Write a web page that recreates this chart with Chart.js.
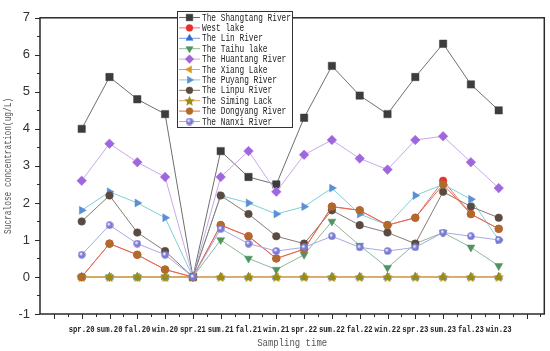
<!DOCTYPE html>
<html>
<head>
<meta charset="utf-8">
<script src="https://cdn.jsdelivr.net/npm/chart.js@4/dist/chart.umd.min.js"></script>
<style>
html, body { margin: 0; padding: 0; background: #fff; }
</style>
</head>
<body>
<canvas id="chart" width="550" height="351"></canvas>
<script>
// sampling seasons and measured sucralose values (ug/L)
const seasons = ['spr.20', 'sum.20', 'fal.20', 'win.20', 'spr.21', 'sum.21', 'fal.21', 'win.21',
                 'spr.22', 'sum.22', 'fal.22', 'win.22', 'spr.23', 'sum.23', 'fal.23', 'win.23'];
const yTicks = [-1, 0, 1, 2, 3, 4, 5, 6, 7];

const shangtang = [4.0, 5.4, 4.8, 4.4, 0, 3.4, 2.7, 2.5, 4.3, 5.7, 4.9, 4.4, 5.4, 6.3, 5.2, 4.5];
const westLake  = [0, 0.9, 0.6, 0.2, 0, 1.4, 1.1, 0.5, 0.75, 1.9, 1.8, 1.4, 1.6, 2.6, 1.7, 1.3];
const linRiver  = [0, 0, 0, 0, 0, 0, 0, 0, 0, 0, 0, 0, 0, 0, 0, 0];
const taihu     = [0, 0, 0, 0, 0, 1.0, 0.5, 0.2, 0.6, 1.5, 0.85, 0.25, 0.9, 1.2, 0.8, 0.3];
const huantang  = [2.6, 3.6, 3.1, 2.7, 0, 2.7, 3.4, 2.3, 3.3, 3.7, 3.2, 2.9, 3.7, 3.8, 3.1, 2.4];
const xiangLake = [0, 0, 0, 0, 0, 0, 0, 0, 0, 0, 0, 0, 0, 0, 0, 0];
const puyang    = [1.8, 2.3, 2.0, 1.6, 0, 2.2, 2.0, 1.7, 1.9, 2.4, 1.7, 1.4, 2.2, 2.5, 2.1, 1.0];
const linpu     = [1.5, 2.2, 1.2, 0.7, 0, 2.2, 1.7, 1.1, 0.9, 1.8, 1.4, 1.2, 0.9, 2.3, 1.9, 1.6];
const siming    = [0, 0, 0, 0, 0, 0, 0, 0, 0, 0, 0, 0, 0, 0, 0, 0];
const dongyang  = [0, 0.9, 0.6, 0.2, 0, 1.4, 1.1, 0.5, 0.75, 1.9, 1.8, 1.4, 1.6, 2.5, 1.7, 1.3];
const nanxi     = [0.6, 1.4, 0.9, 0.6, 0, 1.3, 0.9, 0.7, 0.8, 1.1, 0.8, 0.7, 0.8, 1.2, 1.1, 1.0];

// filled five point star marker
function makeStar(color, size) {
    const c = document.createElement('canvas');
    c.width = size; c.height = size;
    const g = c.getContext('2d');
    const r = size / 2, ri = r * 0.45;
    g.beginPath();
    for (let i = 0; i < 10; i++) {
        const rad = i % 2 ? ri : r;
        const a = -Math.PI / 2 + i * Math.PI / 5;
        g.lineTo(r + rad * Math.cos(a), r + rad * Math.sin(a) + 0.5);
    }
    g.closePath();
    g.fillStyle = color;
    g.fill();
    return c;
}

// shaded ball marker
function makeBall(color, size) {
    const c = document.createElement('canvas');
    c.width = size; c.height = size;
    const g = c.getContext('2d');
    const r = size / 2;
    const grad = g.createRadialGradient(r * 0.75, r * 0.7, 0.5, r, r, r);
    grad.addColorStop(0, '#f4f4ff');
    grad.addColorStop(0.45, color);
    grad.addColorStop(1, color);
    g.beginPath();
    g.arc(r, r, r - 0.3, 0, Math.PI * 2);
    g.fillStyle = grad;
    g.fill();
    return c;
}

const series = [
    { name: 'The Shangtang River', data: shangtang, color: '#3d3d3d', line: '#6e6e6e', style: 'rect', radius: 5.2 },
    { name: 'West lake', data: westLake, color: '#e8302a', line: '#f07070', style: 'circle', radius: 3.8 },
    { name: 'The Lin River', data: linRiver, color: '#2b6fd6', line: '#6f9be0', style: 'triangle', radius: 4.6 },
    { name: 'The Taihu lake', data: taihu, color: '#4f9460', line: '#8fb89a', style: 'triangle', radius: 4.6, rotation: 180 },
    { name: 'The Huantang River', data: huantang, color: '#a066dd', line: '#c8a8e8', style: 'rectRot', radius: 4.8 },
    { name: 'The Xiang Lake', data: xiangLake, color: '#d49a1a', line: '#e8a440', style: 'triangle', radius: 4.6, rotation: -90 },
    { name: 'The Puyang River', data: puyang, color: '#5a8fd6', line: '#7ccfd8', style: 'triangle', radius: 4.6, rotation: 90 },
    { name: 'The Linpu River', data: linpu, color: '#5a4b42', line: '#8a7a70', style: 'circle', radius: 3.8 },
    { name: 'The Siming Lack', data: siming, color: '#9a8c12', line: '#e0a050', style: makeStar('#9a8c12', 11), radius: 4.5 },
    { name: 'The Dongyang River', data: dongyang, color: '#b06a2c', line: '#e06a50', style: 'circle', radius: 3.8 },
    { name: 'The Nanxi River', data: nanxi, color: '#7a78d4', line: '#a8a8e2', style: makeBall('#7a78d4', 8), radius: 4 }
];

const datasets = series.map((s, i) => ({
    label: s.name,
    data: s.data.map((v, k) => ({ x: k + 1, y: v })),
    borderColor: s.line,
    borderWidth: 1,
    backgroundColor: s.color,
    pointBackgroundColor: s.color,
    pointBorderColor: s.color,
    pointBorderWidth: 0.5,
    pointStyle: s.style,
    pointRadius: s.radius,
    pointRotation: s.rotation || 0,
    tension: 0,
    order: series.length - i
}));

// box around the plot, outward major / minor ticks and season labels
const framePlugin = {
    id: 'frame',
    afterDatasetsDraw(chart) {
        const { ctx, chartArea: a, scales: { x, y } } = chart;
        ctx.save();
        ctx.strokeStyle = '#2a2a2a';
        ctx.lineWidth = 1;
        ctx.beginPath();
        for (let v = 0; v <= 17.5; v += 0.5) {
            const px = Math.round(x.getPixelForValue(v)) + 0.5;
            const len = v % 1 ? 3 : 5;
            ctx.moveTo(px, a.bottom);
            ctx.lineTo(px, a.bottom + len);
        }
        for (let v = -1; v <= 7; v += 0.5) {
            const py = Math.round(y.getPixelForValue(v)) + 0.5;
            const len = v % 1 ? 3 : 5;
            ctx.moveTo(a.left, py);
            ctx.lineTo(a.left - len, py);
        }
        ctx.stroke();
        ctx.lineWidth = 1.5;
        ctx.strokeRect(a.left, a.top, a.right - a.left, a.bottom - a.top);

        ctx.fillStyle = '#222';
        ctx.font = 'bold 9px "Liberation Mono", monospace';
        ctx.textAlign = 'center';
        ctx.textBaseline = 'middle';
        x.ticks.forEach(t => {
            ctx.fillText(seasons[t.value - 1], x.getPixelForValue(t.value), a.bottom + 16, 26);
        });
        ctx.restore();
    }
};

// axis titles in a narrow typewriter face
const titlePlugin = {
    id: 'titles',
    afterDraw(chart) {
        const { ctx, chartArea: a } = chart;
        ctx.save();
        ctx.fillStyle = '#555';
        ctx.textAlign = 'center';
        ctx.textBaseline = 'middle';
        ctx.font = '11px "Liberation Mono", monospace';
        ctx.fillText('Sampling time', (a.left + a.right) / 2, 343, 70);
        ctx.translate(8, (a.top + a.bottom) / 2);
        ctx.rotate(-Math.PI / 2);
        ctx.font = '10px "Liberation Mono", monospace';
        ctx.fillText('Sucralose concentration(ug/L)', 0, 0, 136);
        ctx.restore();
    }
};

// legend box inside the plot area
const legendPlugin = {
    id: 'boxLegend',
    afterDraw(chart) {
        const { ctx } = chart;
        const left = 177, top = 11, right = 292, bottom = 127;
        const step = (bottom - top - 12) / (series.length - 1);
        ctx.save();
        ctx.fillStyle = '#fff';
        ctx.fillRect(left, top, right - left, bottom - top);
        ctx.strokeStyle = '#333';
        ctx.lineWidth = 1;
        ctx.strokeRect(left + 0.5, top + 0.5, right - left, bottom - top);
        series.forEach((s, i) => {
            const yy = top + 6.5 + i * step;
            ctx.strokeStyle = s.line;
            ctx.beginPath();
            ctx.moveTo(left + 2, yy);
            ctx.lineTo(left + 23, yy);
            ctx.stroke();
            ctx.fillStyle = s.color;
            ctx.strokeStyle = s.color;
            ctx.lineWidth = 0.5;
            Chart.helpers.drawPoint(ctx, {
                pointStyle: s.style, radius: s.radius * 0.9, rotation: s.rotation || 0, borderWidth: 0.5
            }, left + 12.5, yy);
            ctx.lineWidth = 1;
            ctx.fillStyle = '#222';
            ctx.font = '10px "Liberation Mono", monospace';
            ctx.textBaseline = 'middle';
            ctx.textAlign = 'left';
            const w = ctx.measureText(s.name).width;
            ctx.fillText(s.name, left + 25, yy + 0.5, w * 0.78);
        });
        ctx.restore();
    }
};

new Chart(document.getElementById('chart'), {
    type: 'line',
    data: { datasets },
    options: {
        responsive: false,
        animation: false,
        layout: { padding: { left: 0, right: 2, top: 7, bottom: 0 } },
        plugins: {
            legend: { display: false },
            tooltip: { enabled: false }
        },
        scales: {
            x: {
                type: 'linear',
                min: -0.5,
                max: 17.64,
                grid: { display: false, drawTicks: false },
                border: { display: false },
                afterFit: s => { s.height = 37; },
                afterBuildTicks: s => { s.ticks = seasons.map((_, k) => ({ value: k + 1 })); },
                ticks: { display: false, autoSkip: false }
            },
            y: {
                min: -1,
                max: 7,
                grid: { display: false, drawTicks: false },
                border: { display: false },
                afterFit: s => { s.width = 40; },
                afterBuildTicks: s => { s.ticks = yTicks.map(v => ({ value: v })); },
                ticks: {
                    padding: 10,
                    color: '#333',
                    font: { family: '"Liberation Sans", Arial, sans-serif', size: 13 }
                }
            }
        }
    },
    plugins: [framePlugin, titlePlugin, legendPlugin]
});
</script>
</body>
</html>
